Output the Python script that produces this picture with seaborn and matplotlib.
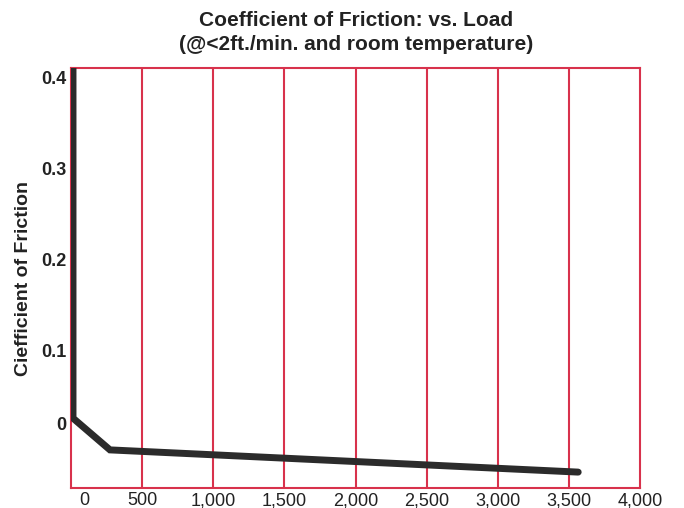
import numpy as np
import pandas as pd
import matplotlib
matplotlib.use("Agg")
import matplotlib.pyplot as plt
import seaborn as sns

# data
load = [14, 14, 274, 3565]
friction = [0.411, 0.025, -0.010, -0.0345]

x_grid = [500, 1000, 1500, 2000, 2500, 3000, 3500]
x_tick_pos = [91, 500, 1000, 1500, 2000, 2500, 3000, 3500, 4000]
x_tick_labels = ["0", "500", "1,000", "1,500", "2,000", "2,500", "3,000", "3,500", "4,000"]
y_tick_pos = [0.4, 0.3, 0.2, 0.1, 0.0195]
y_tick_labels = ["0.4", "0.3", "0.2", "0.1", "0"]

sns.set_style("white")
plt.rcParams['font.family'] = ['Liberation Sans', 'DejaVu Sans']

red = '#d8324c'
df = pd.DataFrame({'Load': load, 'Friction': friction})

fig = plt.figure(figsize=(6.84, 5.08), dpi=100)
ax = fig.add_axes([0.1038, 0.0394, 0.832, 0.8267])

for gx in x_grid:
    ax.axvline(gx, color=red, lw=1.5, zorder=1)

sns.lineplot(data=df, x='Load', y='Friction', sort=False, estimator=None,
             color='#2b2b2b', lw=5, ax=ax, zorder=3, solid_joinstyle='miter')

ax.set_xlim(0, 4000)
ax.set_ylim(-0.052, 0.411)
for s in ax.spines.values():
    s.set_color(red)
    s.set_linewidth(1.5)

ax.set_xticks(x_tick_pos)
ax.set_xticklabels(x_tick_labels, fontsize=13, color='#222222')
ax.set_yticks(y_tick_pos)
ax.set_yticklabels(y_tick_labels, fontsize=13, color='#222222', fontweight='bold')
ax.tick_params(length=0, pad=3)

ax.set_xlabel('')
ax.set_ylabel('Ciefficient of Friction', fontsize=14, fontweight='bold',
              color='#222222', labelpad=7)
fig.suptitle('Coefficient of Friction: vs. Load\n(@<2ft./min. and room temperature)',
             fontsize=15, fontweight='bold', color='#222222', y=0.978,
             linespacing=1.3, x=0.52)

fig.savefig('out.png', dpi=100)
